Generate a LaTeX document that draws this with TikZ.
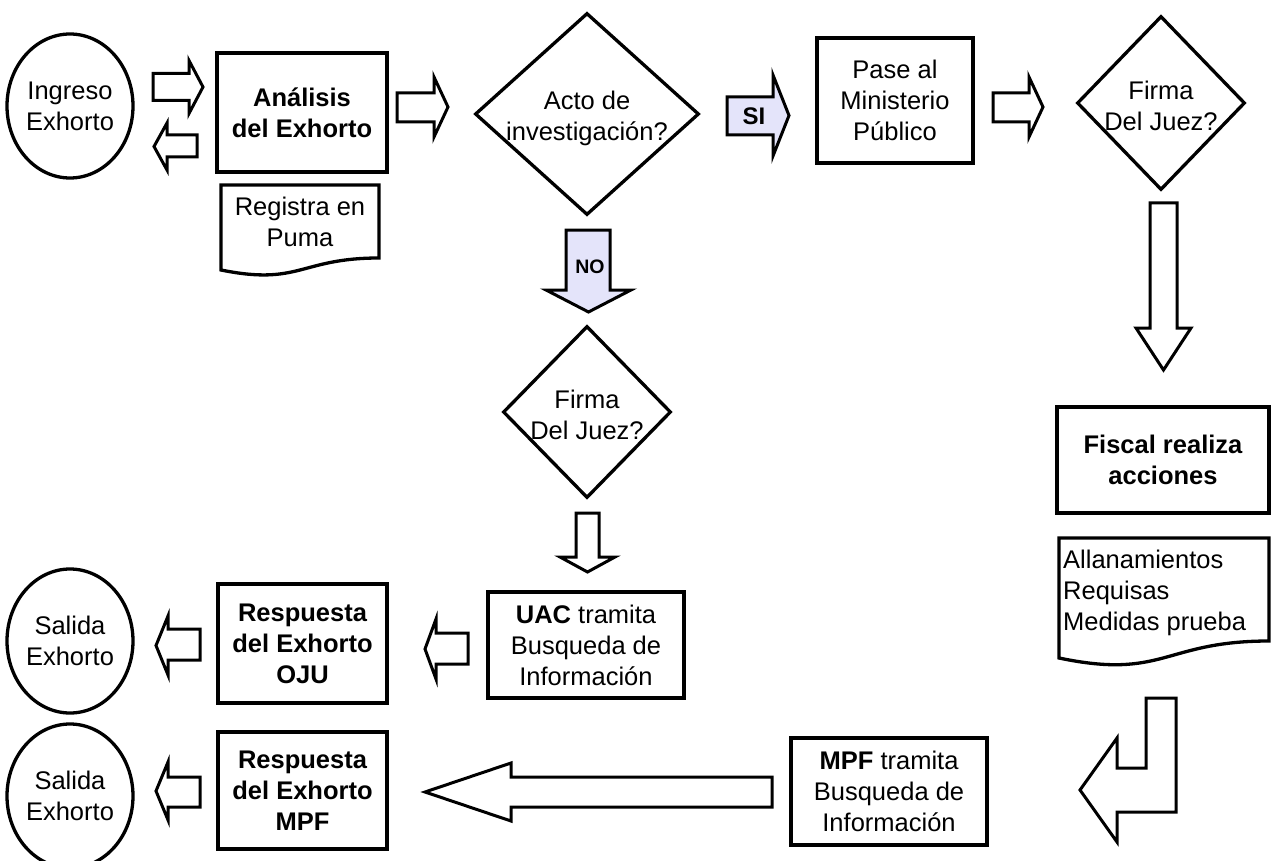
\documentclass[tikz,border=0pt]{standalone}
\usepackage{fontspec}
\setmainfont{Liberation Sans}
\usetikzlibrary{shapes.geometric}
\definecolor{lav}{RGB}{228,228,250}
\begin{document}
\begin{tikzpicture}[x=1pt,y=-1pt,
  txt/.style={align=center,inner sep=0pt,font=\fontsize{25.5}{31}\selectfont},
  btxt/.style={align=center,inner sep=0pt,font=\fontsize{25.5}{31}\selectfont\bfseries},
  box/.style={draw,line width=3.3pt,inner sep=0pt},
  ell/.style={ellipse,draw,line width=3.3pt,inner sep=0pt,minimum width=126,minimum height=144},
  dia/.style={diamond,draw,line width=3.3pt,inner sep=0pt},
  doc/.style={draw,line width=3.3pt,line join=miter},
  blk/.style={draw,line width=3pt,line join=miter,fill=white},
  lblk/.style={blk,fill=lav}]
\useasboundingbox (0,0) rectangle (1271,861);

% ellipses
\node[ell] (ingreso) at (70,106) {};
\node[txt] (ingresotxt) at (ingreso.center) {Ingreso\\Exhorto};
\node[ell] (salida1) at (70,641) {};
\node[txt] (salida1txt) at (salida1.center) {Salida\\Exhorto};
\node[ell] (salida2) at (70,796) {};
\node[txt] (salida2txt) at (salida2.center) {Salida\\Exhorto};

% boxes
\node[box,btxt,minimum width=170,minimum height=119] (analisis) at (302,112.5) {Análisis\\del Exhorto};
\node[box,txt,minimum width=156,minimum height=125] (pase) at (895,100.5) {Pase al\\Ministerio\\Público};
\node[box,btxt,minimum width=212,minimum height=106] (fiscal) at (1163,460) {Fiscal realiza\\acciones};
\node[box,txt,minimum width=196,minimum height=107] (mpf) at (889,791.5) {\textbf{MPF} tramita\\Busqueda de\\Información};
\node[box,btxt,minimum width=169,minimum height=117] (respmpf) at (302.5,790.5) {Respuesta\\del Exhorto\\MPF};
\node[box,btxt,minimum width=169,minimum height=119] (resoju) at (302.5,643.5) {Respuesta\\del Exhorto\\OJU};
\node[box,txt,minimum width=196,minimum height=106] (uac) at (586,645) {\textbf{UAC} tramita\\Busqueda de\\Información};

% diamonds
\node[dia,minimum width=224,minimum height=202] (acto) at (587,114) {};
\node[txt] (actotxt) at ([yshift=-4pt]acto.center) {Acto de\\investigación?};
\node[dia,minimum width=168,minimum height=174] (firma1) at (1161,103) {};
\node[txt] (firma1txt) at ([yshift=-3pt]firma1.center) {Firma\\Del Juez?};
\node[dia,minimum width=168,minimum height=172] (firma2) at (587,412) {};
\node[txt] (firma2txt) at ([yshift=-3pt]firma2.center) {Firma\\Del Juez?};

% documents
\draw[doc] (221,185) -- (379,185) -- (379,258) .. controls (300,258) and (300,286) .. (221,270) -- cycle;
\node[txt] (registra) at (300,222) {Registra en\\Puma};
\draw[doc] (1059,538) -- (1269,538) -- (1269,641) .. controls (1164,641) and (1164,680) .. (1059,658) -- cycle;
\node[txt,align=left,anchor=base west] (acciones) at (1063,630) {Allanamientos\\Requisas\\Medidas prueba};

% block arrows
\draw[blk] (153,73.5)--(189,73.5)--(189,60.5)--(203,87)--(189,113.5)--(189,100.5)--(153,100.5)--cycle;
\draw[blk] (197,135)--(167,135)--(167,123)--(154,146.5)--(167,170)--(167,157)--(197,157)--cycle;
\draw[blk] (397,93)--(434,93)--(434,77)--(448,107)--(434,137)--(434,122)--(397,122)--cycle;
\draw[lblk] (727,97)--(773,97)--(773,75)--(789,115.5)--(773,156)--(773,135)--(727,135)--cycle;
\node[btxt,font=\fontsize{24}{28}\selectfont\bfseries] (si) at (754,116) {SI};
\draw[blk] (993,93)--(1029,93)--(1029,77)--(1043,107)--(1029,137)--(1029,122)--(993,122)--cycle;
\draw[blk] (1150,203)--(1177,203)--(1177,328)--(1191,328)--(1163.5,370)--(1136,328)--(1150,328)--cycle;
\draw[blk] (1176,698)--(1176,812)--(1117,812)--(1117,842)--(1080,790)--(1117,738)--(1117,768)--(1146,768)--(1146,698)--cycle;
\draw[blk] (772,777)--(511,777)--(511,763)--(425,792)--(511,821)--(511,807)--(772,807)--cycle;
\draw[blk] (200,777)--(168,777)--(168,762)--(156,791)--(168,820)--(168,807)--(200,807)--cycle;
\draw[blk] (200,629)--(168,629)--(168,616)--(156,645.5)--(168,675)--(168,660)--(200,660)--cycle;
\draw[blk] (468,633)--(436,633)--(436,619)--(425,649)--(436,679)--(436,664)--(468,664)--cycle;
\draw[blk] (576,513)--(599,513)--(599,557)--(615,557)--(587.5,572)--(560,557)--(576,557)--cycle;
\draw[lblk] (566,230)--(610,230)--(610,290)--(631,290)--(588.5,312)--(546,290)--(566,290)--cycle;
\node[btxt,font=\fontsize{19.5}{24}\selectfont\bfseries] (no) at (590,267) {NO};
\end{tikzpicture}
\end{document}
